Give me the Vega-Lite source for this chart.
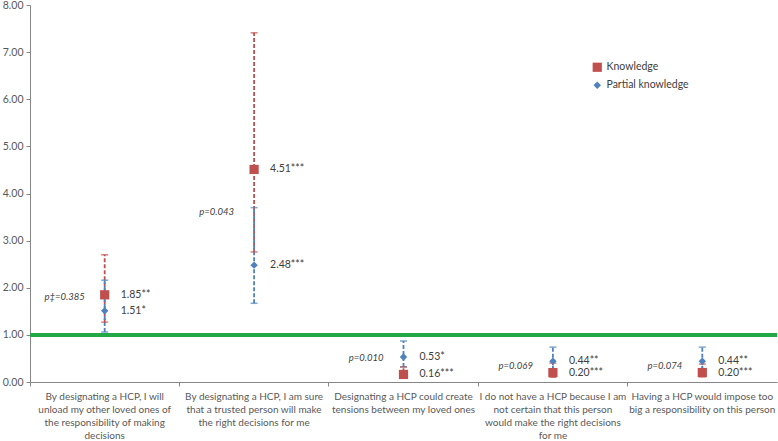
{
  "$schema": "https://vega.github.io/schema/vega-lite/v6.json",
  "width": 747,
  "height": 377,
  "autosize": "none",
  "padding": {"left": 30, "top": 5, "right": 1, "bottom": 59},
  "background": "white",
  "config": {
    "view": {"stroke": null},
    "font": "Lato",
    "axis": {"labelFont": "Lato", "labelColor": "#595959", "labelFontSize": 10.5, "domainColor": "#868686", "tickColor": "#868686", "grid": false}
  },
  "datasets": {
    "main": [
      {"cat": "By designating a HCP, I will|unload my other loved ones of|the responsibility of making|decisions", "series": "Knowledge", "or": 1.85, "lo": 1.27, "hi": 2.70, "label": "1.85**"},
      {"cat": "By designating a HCP, I will|unload my other loved ones of|the responsibility of making|decisions", "series": "Partial knowledge", "or": 1.51, "lo": 1.06, "hi": 2.16, "label": "1.51*"},
      {"cat": "By designating a HCP, I am sure|that a trusted person will make|the right decisions for me", "series": "Knowledge", "or": 4.51, "lo": 2.76, "hi": 7.41, "label": "4.51***"},
      {"cat": "By designating a HCP, I am sure|that a trusted person will make|the right decisions for me", "series": "Partial knowledge", "or": 2.48, "lo": 1.67, "hi": 3.70, "label": "2.48***"},
      {"cat": "Designating a HCP could create|tensions between my loved ones", "series": "Knowledge", "or": 0.16, "lo": 0.08, "hi": 0.32, "label": "0.16***"},
      {"cat": "Designating a HCP could create|tensions between my loved ones", "series": "Partial knowledge", "or": 0.53, "lo": 0.32, "hi": 0.87, "label": "0.53*"},
      {"cat": "I do not have a HCP because I am|not certain that this person|would make the right decisions|for me", "series": "Knowledge", "or": 0.20, "lo": 0.10, "hi": 0.40, "label": "0.20***"},
      {"cat": "I do not have a HCP because I am|not certain that this person|would make the right decisions|for me", "series": "Partial knowledge", "or": 0.44, "lo": 0.26, "hi": 0.74, "label": "0.44**"},
      {"cat": "Having a HCP would impose too|big a responsibility on this person", "series": "Knowledge", "or": 0.20, "lo": 0.11, "hi": 0.38, "label": "0.20***"},
      {"cat": "Having a HCP would impose too|big a responsibility on this person", "series": "Partial knowledge", "or": 0.44, "lo": 0.26, "hi": 0.74, "label": "0.44**"}
    ],
    "pvals": [
      {"cat": "By designating a HCP, I will|unload my other loved ones of|the responsibility of making|decisions", "p": "p‡=0.385", "yv": 1.81},
      {"cat": "By designating a HCP, I am sure|that a trusted person will make|the right decisions for me", "p": "p=0.043", "yv": 3.6},
      {"cat": "Designating a HCP could create|tensions between my loved ones", "p": "p=0.010", "yv": 0.5},
      {"cat": "I do not have a HCP because I am|not certain that this person|would make the right decisions|for me", "p": "p=0.069", "yv": 0.34},
      {"cat": "Having a HCP would impose too|big a responsibility on this person", "p": "p=0.074", "yv": 0.34}
    ]
  },
  "data": {"name": "main"},
  "encoding": {
    "x": {"field": "cat", "type": "nominal", "sort": null, "title": null,
      "axis": {"labelAngle": 0, "labelExpr": "split(datum.label, '|')", "bandPosition": 0, "tickSize": 4, "labelPadding": 5, "labelLineHeight": 13.3, "labelBaseline": "top", "labelLimit": 0, "labelFontSize": 10, "labelOverlap": false}}
  },
  "layer": [
    {
      "mark": {"type": "rule", "color": "#22a845", "strokeWidth": 3},
      "encoding": {"x": null, "y": {"datum": 1, "type": "quantitative"}}
    },
    {
      "mark": {"type": "rule", "strokeDash": [4, 2], "strokeWidth": 1.8},
      "encoding": {
        "y": {"field": "lo", "type": "quantitative", "scale": {"domain": [0, 8], "nice": false}, "title": null,
          "axis": {"values": [0, 1, 2, 3, 4, 5, 6, 7, 8], "format": ".2f", "tickSize": 4, "labelPadding": 3}},
        "y2": {"field": "hi"},
        "color": {"field": "series", "type": "nominal", "scale": {"domain": ["Knowledge", "Partial knowledge"], "range": ["#c0504d", "#4f81bd"]}}
      }
    },
    {
      "mark": {"type": "tick", "size": 7, "thickness": 1.5},
      "encoding": {"y": {"field": "lo", "type": "quantitative"}, "color": {"field": "series", "type": "nominal"}}
    },
    {
      "mark": {"type": "tick", "size": 7, "thickness": 1.5},
      "encoding": {"y": {"field": "hi", "type": "quantitative"}, "color": {"field": "series", "type": "nominal"}}
    },
    {
      "mark": {"type": "point", "filled": true, "opacity": 1},
      "encoding": {
        "y": {"field": "or", "type": "quantitative"},
        "color": {"field": "series", "type": "nominal", "title": null,
          "legend": {"orient": "none", "legendX": 562, "legendY": 57, "labelFont": "Lato", "labelFontSize": 10.5, "labelColor": "#404040", "symbolSize": 50, "rowPadding": 7, "symbolStrokeWidth": 0, "symbolOpacity": 1,
            "encode": {"symbols": {"update": {"opacity": {"value": 1}, "fillOpacity": {"value": 1}}}}}},
        "shape": {"field": "series", "type": "nominal", "title": null, "scale": {"domain": ["Knowledge", "Partial knowledge"], "range": ["square", "diamond"]}},
        "size": {"field": "series", "type": "nominal", "scale": {"domain": ["Knowledge", "Partial knowledge"], "range": [85, 55]}, "legend": null}
      }
    },
    {
      "mark": {"type": "text", "align": "left", "dx": 16, "baseline": "middle", "fontSize": 10.5, "color": "#404040", "font": "Lato"},
      "encoding": {"y": {"field": "or", "type": "quantitative"}, "text": {"field": "label"}}
    },
    {
      "data": {"name": "pvals"},
      "mark": {"type": "text", "align": "right", "dx": -20, "baseline": "middle", "fontSize": 9.5, "fontStyle": "italic", "color": "#404040", "font": "Lato"},
      "encoding": {"y": {"field": "yv", "type": "quantitative"}, "text": {"field": "p"}}
    }
  ]
}
